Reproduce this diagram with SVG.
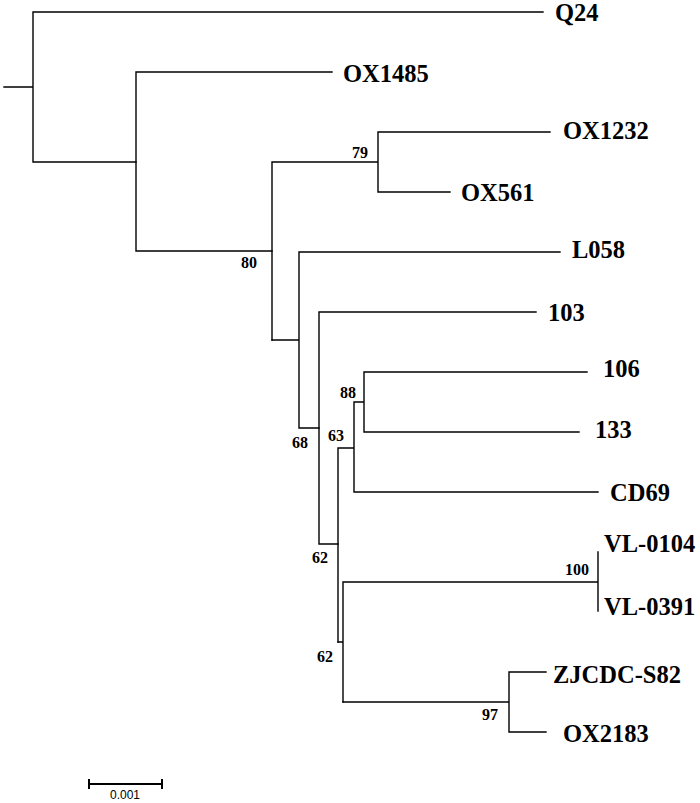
<svg xmlns="http://www.w3.org/2000/svg" width="700" height="803" viewBox="0 0 700 803">
<style>
.br{fill:none;stroke:#000;stroke-width:1.4;stroke-linecap:square}
.lf{font-family:"Liberation Serif","Times New Roman",serif;font-weight:bold;font-size:24.5px;fill:#000}
.bs{font-family:"Liberation Serif","Times New Roman",serif;font-weight:bold;font-size:16px;fill:#000;text-anchor:middle}
.sc{font-family:"Liberation Sans",Arial,sans-serif;font-size:12px;fill:#000;text-anchor:middle}
</style>
<rect width="700" height="803" fill="#fff"/>
<g id="connectors">
<path class="br" d="M4,87H33M33,12V162M33,12H543M33,162H136"/>
<path class="br" d="M136,72V251M136,72H332M136,251H272"/>
<path class="br" d="M272,162V340M272,162H378M378,132V192M378,132H550M378,192H450"/>
<path class="br" d="M272,340H299M299,252V428M299,252H560M299,428H319"/>
<path class="br" d="M319,312V544M319,312H536M319,544H338"/>
<path class="br" d="M338,448V642M338,448H354M354,402V492M354,402H364M364,372V432M364,372H587M364,432H579M354,492H598"/>
<path class="br" d="M338,642H343M343,582V702M343,582H598M598,552V611"/>
<path class="br" d="M343,702H509M509,672V732M509,672H546M509,732H546"/>
</g>
<g id="leaf-Q24"><text class="lf" x="555" y="21">Q24</text></g>
<g id="leaf-OX1485"><text class="lf" x="343" y="82">OX1485</text></g>
<g id="leaf-OX1232"><text class="lf" x="563" y="139">OX1232</text></g>
<g id="leaf-OX561"><text class="lf" x="461" y="201">OX561</text></g>
<g id="leaf-L058"><text class="lf" x="572" y="258">L058</text></g>
<g id="leaf-103"><text class="lf" x="548" y="321">103</text></g>
<g id="leaf-106"><text class="lf" x="603" y="377">106</text></g>
<g id="leaf-133"><text class="lf" x="595" y="438">133</text></g>
<g id="leaf-CD69"><text class="lf" x="610" y="501">CD69</text></g>
<g id="leaf-VL-0104"><text class="lf" x="604" y="552">VL-0104</text></g>
<g id="leaf-VL-0391"><text class="lf" x="604" y="615">VL-0391</text></g>
<g id="leaf-ZJCDC-S82"><text class="lf" x="553" y="683">ZJCDC-S82</text></g>
<g id="leaf-OX2183"><text class="lf" x="563" y="742">OX2183</text></g>
<g id="support-values">
<text class="bs" x="249" y="268">80</text>
<text class="bs" x="360" y="158">79</text>
<text class="bs" x="300" y="448">68</text>
<text class="bs" x="348" y="398">88</text>
<text class="bs" x="336" y="441">63</text>
<text class="bs" x="320" y="563">62</text>
<text class="bs" x="325" y="662">62</text>
<text class="bs" x="577" y="575">100</text>
<text class="bs" x="490" y="720">97</text>
</g>
<g id="scale-bar">
<path d="M89,784H162M89,779V789M162,779V789" fill="none" stroke="#000" stroke-width="2"/>
<text class="sc" x="125" y="799">0.001</text>
</g>
</svg>
